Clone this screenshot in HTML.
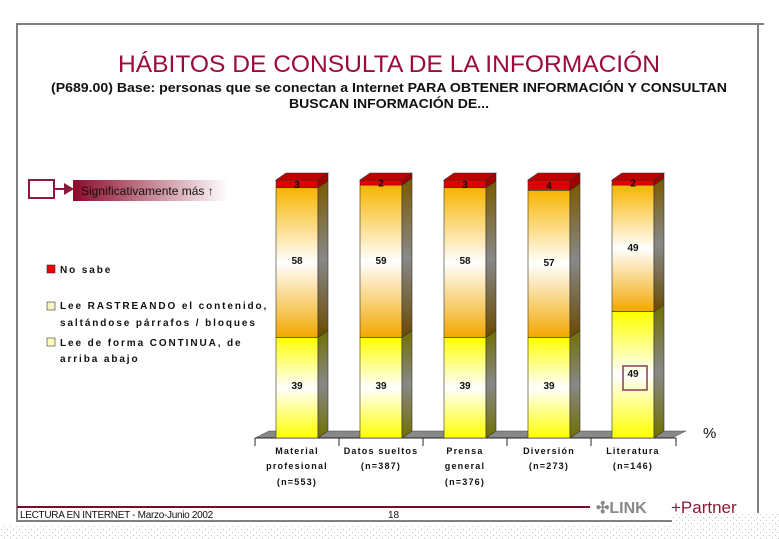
<!DOCTYPE html>
<html><head><meta charset="utf-8"><style>
body{margin:0;width:779px;height:539px;overflow:hidden;background:#fff;font-family:"Liberation Sans",sans-serif}
</style></head><body>
<svg width="779" height="539" style="position:absolute;left:0;top:0" font-family="Liberation Sans, sans-serif">
<defs>
<pattern id="dots" width="6" height="6" patternUnits="userSpaceOnUse"><rect x="1" y="1" width="1" height="1" fill="#bbb"/><rect x="4" y="4" width="1" height="1" fill="#ccc"/></pattern>
<linearGradient id="og" x1="0" y1="0" x2="0" y2="1"><stop offset="0" stop-color="#f7b500"/><stop offset="0.5" stop-color="#fff"/><stop offset="1" stop-color="#f2a800"/></linearGradient>
<linearGradient id="yg" x1="0" y1="0" x2="0" y2="1"><stop offset="0" stop-color="#ffff00"/><stop offset="0.5" stop-color="#fff"/><stop offset="1" stop-color="#ffff00"/></linearGradient>
<linearGradient id="sg" x1="0" y1="0" x2="0" y2="1"><stop offset="0" stop-color="#7a5a00"/><stop offset="0.5" stop-color="#888"/><stop offset="1" stop-color="#6a4a00"/></linearGradient>
<linearGradient id="sy" x1="0" y1="0" x2="0" y2="1"><stop offset="0" stop-color="#707000"/><stop offset="0.5" stop-color="#888"/><stop offset="1" stop-color="#707000"/></linearGradient>
<linearGradient id="lg" x1="0" y1="0" x2="1" y2="0"><stop offset="0" stop-color="#8c0a2a"/><stop offset="1" stop-color="#fff"/></linearGradient>
</defs>
<rect x="0" y="526" width="779" height="13" fill="url(#dots)"/>
<rect x="672" y="512" width="107" height="14" fill="url(#dots)"/>
<rect x="17" y="23" width="747" height="2" fill="#808080"/>
<rect x="16" y="23" width="2" height="498" fill="#808080"/>
<rect x="757" y="23" width="2" height="490" fill="#808080"/>
<rect x="16" y="520" width="656" height="2" fill="#808080"/>
<rect x="17" y="506" width="573" height="2" fill="#7a0a28"/>
<text x="389" y="72" font-size="24" fill="#9c0c3a" text-anchor="middle" textLength="542" lengthAdjust="spacingAndGlyphs">HÁBITOS DE CONSULTA DE LA INFORMACIÓN</text>
<text x="389" y="92" font-size="13" font-weight="bold" fill="#111" text-anchor="middle" textLength="676" lengthAdjust="spacingAndGlyphs">(P689.00) Base: personas que se conectan a Internet PARA OBTENER INFORMACIÓN Y CONSULTAN</text>
<text x="389" y="108" font-size="13" font-weight="bold" fill="#111" text-anchor="middle" textLength="200" lengthAdjust="spacingAndGlyphs">BUSCAN INFORMACIÓN DE...</text>
<polygon points="255,438 672,438 686,431 269,431" fill="#888" stroke="#444" stroke-width="0.5"/>
<line x1="255" y1="438" x2="676" y2="438" stroke="#222"/>
<g stroke="#222"><line x1="255" y1="438" x2="255" y2="446"/><line x1="339" y1="438" x2="339" y2="446"/><line x1="423" y1="438" x2="423" y2="446"/><line x1="507" y1="438" x2="507" y2="446"/><line x1="591" y1="438" x2="591" y2="446"/><line x1="676" y1="438" x2="676" y2="446"/></g>
<g id="bars" stroke="#333" stroke-width="0.6" font-size="10" font-weight="bold" text-anchor="middle">
</g>
<rect x="29" y="180" width="25" height="18" fill="#fff" stroke="#8c1a3a" stroke-width="2"/>
<line x1="54" y1="189" x2="66" y2="189" stroke="#8c1a3a" stroke-width="2"/>
<polygon points="64,183 74,189 64,195" fill="#8c1a3a"/>
<rect x="73" y="180" width="155" height="21" fill="url(#lg)"/>
<text x="81" y="195" font-size="12" fill="#111">Significativamente más ↑</text>
<rect x="47" y="265" width="8" height="8" fill="#e00" stroke="#333" stroke-width="0.6"/>
<rect x="47" y="302" width="8" height="8" fill="#fbf3c0" stroke="#333" stroke-width="0.6"/>
<rect x="47" y="338" width="8" height="8" fill="#ffffc0" stroke="#333" stroke-width="0.6"/>
<g font-size="10" font-weight="bold" fill="#111" letter-spacing="1.9">
<text x="60" y="273">No sabe</text>
<text x="60" y="309">Lee RASTREANDO el contenido,</text>
<text x="60" y="326">saltándose párrafos / bloques</text>
<text x="60" y="346">Lee de forma CONTINUA, de</text>
<text x="60" y="362">arriba abajo</text>
</g>
<text x="703" y="438" font-size="15" fill="#111">%</text>
<g font-size="9" font-weight="bold" fill="#111" text-anchor="middle" letter-spacing="1.2">
<text x="297" y="454">Material</text><text x="297" y="469">profesional</text><text x="297" y="485">(n=553)</text>
<text x="381" y="454">Datos sueltos</text><text x="381" y="469">(n=387)</text>
<text x="465" y="454">Prensa</text><text x="465" y="469">general</text><text x="465" y="485">(n=376)</text>
<text x="549" y="454">Diversión</text><text x="549" y="469">(n=273)</text>
<text x="633" y="454">Literatura</text><text x="633" y="469">(n=146)</text>
</g>
<rect x="623" y="366" width="24" height="24" fill="none" stroke="#8c3a5a" stroke-width="1.5"/>
<text x="20" y="518" font-size="10" fill="#111" letter-spacing="-0.3">LECTURA EN INTERNET - Marzo-Junio 2002</text>
<text x="388" y="518" font-size="10" fill="#111">18</text>
<text x="596" y="513" font-size="16" font-weight="bold" fill="#888">✣LINK</text>
<text x="671" y="513" font-size="17" fill="#8c1a3a">+Partner</text>
</svg>
<script>
var d=[[39,58,3],[39,59,2],[39,58,3],[39,57,4],[49,49,2]];
var g=document.getElementById('bars'),s='',k=2.58,W=42,dx=10,dy=7;
var fills=['url(#yg)','url(#og)','#e00000'],sides=['url(#sy)','url(#sg)','#a00000'];
d.forEach(function(v,i){var x=276+i*84,y=438;
v.forEach(function(p,j){var h=p*k,t=y-h;
s+='<rect x="'+x+'" y="'+t+'" width="'+W+'" height="'+h+'" fill="'+fills[j]+'"/>';
s+='<polygon points="'+(x+W)+','+y+' '+(x+W+dx)+','+(y-dy)+' '+(x+W+dx)+','+(t-dy)+' '+(x+W)+','+t+'" fill="'+sides[j]+'"/>';
if(j==2)s+='<polygon points="'+x+','+t+' '+(x+dx)+','+(t-dy)+' '+(x+W+dx)+','+(t-dy)+' '+(x+W)+','+t+'" fill="#c00000"/>';
var ty;
if(j==2)ty=t+h/2+4;
else if(j==0)ty=(i==4)?377:389;
else ty=(i==4)?251:(i==3?266:264);
s+='<text x="'+(x+W/2)+'" y="'+ty+'" stroke="none" fill="#111">'+p+'</text>';
y=t;});});
g.innerHTML=s;
</script>
</body></html>
